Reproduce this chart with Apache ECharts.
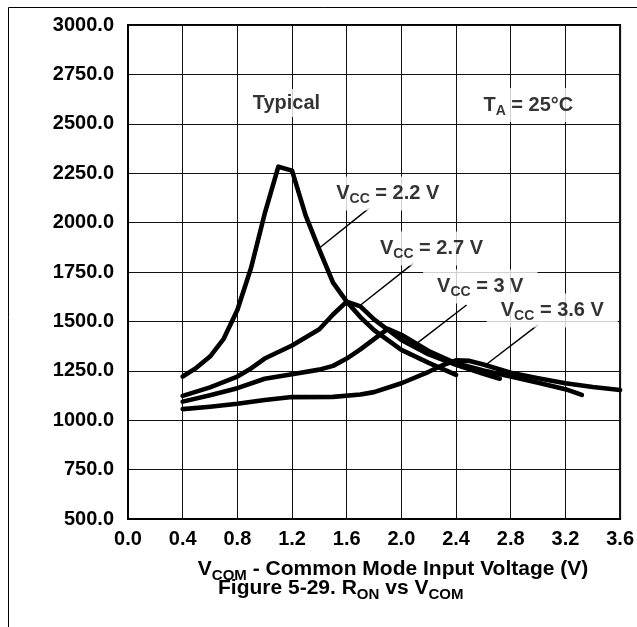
<!DOCTYPE html>
<html>
<head>
<meta charset="utf-8">
<script src="https://cdn.jsdelivr.net/npm/echarts@6/dist/echarts.min.js"></script>
<style>
  html, body { margin: 0; padding: 0; background: #fff; }
  #chart { width: 637px; height: 627px; }
</style>
</head>
<body>
<div id="chart"></div>
<script>
// On-resistance R_ON (ohm) against common-mode input voltage V_COM (V), one curve per supply.
const vcc22X = [0.4, 0.5, 0.6, 0.7, 0.8, 0.9, 1.0, 1.1, 1.2, 1.3, 1.4, 1.5, 1.6, 1.7, 1.8, 2.0, 2.2, 2.4];
const vcc22Y = [1221, 1265, 1322, 1412, 1558, 1770, 2045, 2283, 2263, 2035, 1862, 1696, 1600, 1522, 1456, 1356, 1290, 1229];

const vcc27X = [0.4, 0.6, 0.8, 0.9, 1.0, 1.2, 1.4, 1.5, 1.6, 1.7, 1.8, 2.0, 2.2, 2.4, 2.6, 2.72];
const vcc27Y = [1123, 1166, 1221, 1262, 1312, 1378, 1460, 1535, 1600, 1576, 1510, 1406, 1333, 1280, 1235, 1210];

const vcc30X = [0.4, 0.6, 0.8, 1.0, 1.2, 1.4, 1.5, 1.6, 1.7, 1.8, 1.9, 2.0, 2.2, 2.4, 2.6, 2.8, 3.0, 3.2, 3.32];
const vcc30Y = [1094, 1126, 1162, 1210, 1233, 1256, 1275, 1312, 1358, 1410, 1462, 1432, 1350, 1288, 1252, 1221, 1190, 1157, 1128];

const vcc36X = [0.4, 0.6, 0.8, 1.0, 1.2, 1.5, 1.7, 1.8, 2.0, 2.2, 2.3, 2.4, 2.5, 2.6, 2.8, 3.0, 3.2, 3.4, 3.6];
const vcc36Y = [1056, 1068, 1083, 1102, 1117, 1118, 1130, 1142, 1187, 1245, 1278, 1303, 1300, 1282, 1240, 1212, 1187, 1168, 1153];

// Axis ticks
const xTicks = [0.0, 0.4, 0.8, 1.2, 1.6, 2.0, 2.4, 2.8, 3.2, 3.6];
const yTicks = [500, 750, 1000, 1250, 1500, 1750, 2000, 2250, 2500, 2750, 3000];

// Curve labels: text, anchor (data coords), leader line from label to curve
const curveNames = ['{m|V}{s|CC}{m| = 2.2 V}', '{m|V}{s|CC}{m| = 2.7 V}', '{m|V}{s|CC}{m| = 3 V}', '{m|V}{s|CC}{m| = 3.6 V}'];
const curveLabelAt = [[1.900, 2147], [2.220, 1869], [2.577, 1677], [3.104, 1555]];
const leaderFrom = [[1.762, 2072], [2.087, 1794], [2.477, 1583], [2.999, 1482]];
const leaderTo = [[1.398, 1870], [1.702, 1583], [2.113, 1389], [2.623, 1283]];

// Free notes inside the plot
const noteTexts = ['{m|Typical}', '{m|T}{s|A}{m| = 25°C}'];
const noteAt = [[1.159, 2605], [2.929, 2595]];

const FONT = "'Liberation Sans', Arial, Helvetica, sans-serif";
const rich = {
  m: { fontFamily: FONT, fontSize: 20, fontWeight: 'bold', color: '#000' },
  s: { fontFamily: FONT, fontSize: 14, fontWeight: 'bold', color: '#000', padding: [12, 0, 0, 0] }
};
// Slightly larger type for the axis title and the figure caption
const richBig = {
  m: { fontFamily: FONT, fontSize: 21, fontWeight: 'bold', color: '#000' },
  s: { fontFamily: FONT, fontSize: 15, fontWeight: 'bold', color: '#000', padding: [12, 0, 0, 0] }
};

const zip = (xs, ys) => xs.map((x, i) => [x, ys[i]]);
const curves = [zip(vcc22X, vcc22Y), zip(vcc27X, vcc27Y), zip(vcc30X, vcc30Y), zip(vcc36X, vcc36Y)];

const curveSeries = curves.map((data, i) => ({
  type: 'line',
  name: 'curve' + i,
  data: data,
  showSymbol: false,
  symbol: 'none',
  smooth: false,
  z: 3,
  lineStyle: { color: '#000', width: 4.6, cap: 'round', join: 'round' },
  markLine: {
    silent: true,
    symbol: ['none', 'none'],
    label: { show: false },
    lineStyle: { color: '#000', width: 1.5, type: 'solid' },
    data: [[{ coord: leaderFrom[i] }, { coord: leaderTo[i] }]]
  }
}));

const labelPoints = curveLabelAt.map((p, i) => ({ value: p, text: curveNames[i] }))
  .concat(noteAt.map((p, i) => ({ value: p, text: noteTexts[i] })));

const labelSeries = {
  type: 'scatter',
  symbolSize: 0,
  silent: true,
  z: 5,
  data: labelPoints,
  label: {
    show: true,
    position: 'inside',
    formatter: (p) => p.data.text,
    backgroundColor: '#fff',
    padding: [4, 14, 4, 14],
    rich: rich
  }
};

const chart = echarts.init(document.getElementById('chart'), null, { renderer: 'canvas' });
chart.setOption({
  animation: false,
  backgroundColor: '#fff',
  textStyle: { fontFamily: FONT },
  title: {
    text: '{m|Figure 5-29. R}{s|ON}{m| vs V}{s|COM}',
    left: 218,
    top: 575,
    padding: 0,
    textStyle: { rich: richBig }
  },
  graphic: [{
    type: 'rect',
    shape: { x: 8.5, y: 7.5, width: 800, height: 800 },
    style: { fill: 'none', stroke: '#000', lineWidth: 1 },
    silent: true
  }],
  grid: {
    left: 128, right: 14, top: 25, bottom: 108,
    show: true, borderColor: '#000', borderWidth: 2, backgroundColor: 'transparent'
  },
  xAxis: {
    type: 'value',
    min: xTicks[0],
    max: xTicks[xTicks.length - 1],
    interval: xTicks[1] - xTicks[0],
    axisLine: { show: true, lineStyle: { color: '#000', width: 2 } },
    axisTick: { show: false },
    splitLine: { show: true, lineStyle: { color: '#111', width: 1 } },
    axisLabel: {
      margin: 10,
      color: '#000',
      fontFamily: FONT, fontSize: 20, fontWeight: 'bold',
      showMinLabel: true, showMaxLabel: true,
      formatter: (v) => v.toFixed(1)
    },
    name: '{m|V}{s|COM}{m| - Common Mode Input Voltage (V)}',
    nameLocation: 'middle',
    nameGap: 37,
    nameTextStyle: { rich: richBig, padding: [0, 0, 0, 38] }
  },
  yAxis: {
    type: 'value',
    min: yTicks[0],
    max: yTicks[yTicks.length - 1],
    interval: yTicks[1] - yTicks[0],
    axisLine: { show: true, lineStyle: { color: '#000', width: 2 } },
    axisTick: { show: false },
    splitLine: { show: true, lineStyle: { color: '#111', width: 1 } },
    axisLabel: {
      margin: 14,
      color: '#000',
      fontFamily: FONT, fontSize: 20, fontWeight: 'bold',
      formatter: (v) => v.toFixed(1)
    }
  },
  series: curveSeries.concat([labelSeries])
});
</script>
</body>
</html>
